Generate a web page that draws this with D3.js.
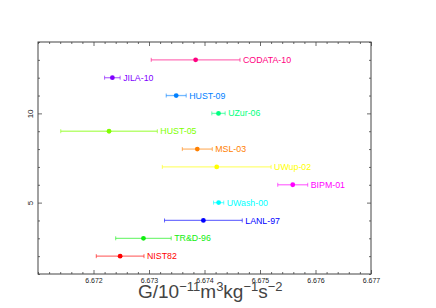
<!DOCTYPE html>
<html><head><meta charset="utf-8">
<script src="https://cdn.jsdelivr.net/npm/d3@7"></script>
<style>body{margin:0;background:#fff}svg{display:block}</style>
</head><body><svg id="c" width="436" height="308"></svg>
<script>
const labels = ["NIST82","TR&D-96","LANL-97","UWash-00","BIPM-01","UWup-02","MSL-03","HUST-05","UZur-06","HUST-09","JILA-10","CODATA-10"];
const gValues = [6.67248,6.6729,6.67398,6.674255,6.67559,6.67422,6.67387,6.67228,6.674252,6.67349,6.67234,6.67384];
const gErrors = [0.00043,0.0005,0.0007,0.000092,0.00027,0.00098,0.00027,0.00087,0.00012,0.00018,0.00014,0.0008];
const rows = [2,3,4,5,6,7,8,9,10,11,12,13];
const colors = ["#ff0000","#11ee11","#0000ff","#00ffff","#ff00ff","#ffff00","#ff8000","#80ff00","#00ff80","#0080ff","#8000ff","#ff0080"];
const xTicks = [6.672,6.673,6.674,6.675,6.676,6.677];
const yTicks = [5,10];

const svg = d3.select("#c");
const L=38,R=371,T=42,B=274;
const x = d3.scaleLinear().domain([6.671,6.677]).range([L,R]);
const y = d3.scaleLinear().domain([1,14]).range([B,T]);
const frame="#444";

const minorX = d3.range(6.671,6.6771,0.0002).filter(v=>!xTicks.some(t=>Math.abs(t-v)<1e-7));
const minorY = d3.range(1,14.5,1).filter(v=>!yTicks.includes(v));

svg.append("g").attr("transform",`translate(0,${B})`)
  .call(d3.axisBottom(x).tickValues(xTicks).tickSize(-4).tickPadding(4).tickFormat(d3.format(".3f")));
svg.append("g").attr("transform",`translate(0,${B})`)
  .call(d3.axisBottom(x).tickValues(minorX).tickSize(-2).tickFormat(""));
svg.append("g").attr("transform",`translate(0,${T})`)
  .call(d3.axisTop(x).tickValues(xTicks).tickSize(-4).tickFormat(""));
svg.append("g").attr("transform",`translate(0,${T})`)
  .call(d3.axisTop(x).tickValues(minorX).tickSize(-2).tickFormat(""));
const gL = svg.append("g").attr("transform",`translate(${L},0)`)
  .call(d3.axisLeft(y).tickValues(yTicks).tickSize(-4).tickFormat(d3.format("d")));
svg.append("g").attr("transform",`translate(${L},0)`)
  .call(d3.axisLeft(y).tickValues(minorY).tickSize(-2).tickFormat(""));
svg.append("g").attr("transform",`translate(${R},0)`)
  .call(d3.axisRight(y).tickValues(yTicks).tickSize(-4).tickFormat(""));
svg.append("g").attr("transform",`translate(${R},0)`)
  .call(d3.axisRight(y).tickValues(minorY).tickSize(-2).tickFormat(""));
svg.selectAll(".domain").remove();
svg.selectAll(".tick line").attr("stroke",frame).attr("stroke-width",0.8);
svg.selectAll(".tick text").attr("font-family","Liberation Sans, Arial, sans-serif").attr("font-size",7).attr("fill","#222");
gL.selectAll(".tick text").each(function(){
  d3.select(this).attr("x",null).attr("y",0).attr("dy","0.35em").attr("text-anchor","middle")
    .attr("transform","translate(-8,0) rotate(-90)").attr("font-size",8);
});

svg.append("rect").attr("x",L).attr("y",T).attr("width",R-L).attr("height",B-T)
  .attr("fill","none").attr("stroke",frame).attr("stroke-width",1);

const data = labels.map((l,i)=>({l, v:gValues[i], e:gErrors[i], r:rows[i], c:colors[i]}));
const g = svg.append("g");
data.forEach(d=>{
  const yy = y(d.r), x0=x(d.v-d.e), x1=x(d.v+d.e);
  g.append("line").attr("x1",x0).attr("x2",x1).attr("y1",yy).attr("y2",yy)
    .attr("stroke",d.c).attr("stroke-opacity",0.55).attr("stroke-width",1.3);
  [x0,x1].forEach(xx=>g.append("line").attr("x1",xx).attr("x2",xx).attr("y1",yy-2).attr("y2",yy+2)
    .attr("stroke",d.c).attr("stroke-opacity",0.75).attr("stroke-width",0.8));
  g.append("circle").attr("cx",x(d.v)).attr("cy",yy).attr("r",2.4).attr("fill",d.c);
  g.append("text").attr("x",x1+3).attr("y",yy).attr("dy","0.35em")
    .attr("font-family","Liberation Sans, Arial, sans-serif").attr("font-size",8.8)
    .attr("fill",d.c).text(d.l);
});

const tt = svg.append("text").attr("x",138).attr("y",298)
  .attr("font-family","Liberation Sans, Arial, sans-serif").attr("font-size",19).attr("fill","#444");
tt.append("tspan").text("G/10");
tt.append("tspan").attr("dy",-7).attr("font-size",13).text("\u221211");
tt.append("tspan").attr("dy",7).text("m");
tt.append("tspan").attr("dy",-7).attr("font-size",13).text("3");
tt.append("tspan").attr("dy",7).text("kg");
tt.append("tspan").attr("dy",-7).attr("font-size",13).text("\u22121");
tt.append("tspan").attr("dy",7).text("s");
tt.append("tspan").attr("dy",-7).attr("font-size",13).text("\u22122");
</script></body></html>
